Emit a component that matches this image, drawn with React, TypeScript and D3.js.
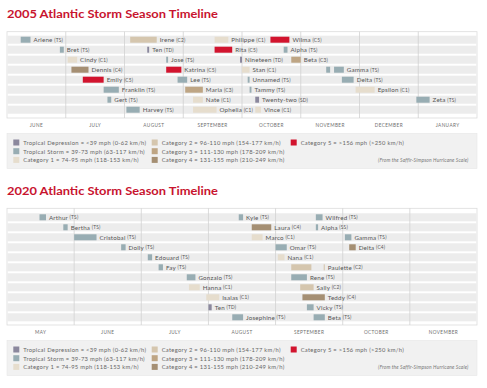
import React from "react";
import * as d3 from "d3";

const W = 487;
const H = 388;

const months2005 = ["JUNE", "JULY", "AUGUST", "SEPTEMBER", "OCTOBER", "NOVEMBER", "DECEMBER", "JANUARY"];
const months2020 = ["MAY", "JUNE", "JULY", "AUGUST", "SEPTEMBER", "OCTOBER", "NOVEMBER"];

// [name, category, row, start, end]; an empty name marks an unlabeled earlier segment
const storms2005: [string, string, number, string, string][] = [
  ["Arlene", "TS", 0, "2005-06-08", "2005-06-13"],
  ["Irene", "C2", 0, "2005-08-04", "2005-08-18"],
  ["Philippe", "C1", 0, "2005-09-17", "2005-09-24"],
  ["Wilma", "C5", 0, "2005-10-16", "2005-10-26"],
  ["Bret", "TS", 1, "2005-06-28", "2005-06-30"],
  ["Ten", "TD", 1, "2005-08-13", "2005-08-14"],
  ["Rita", "C5", 1, "2005-09-17", "2005-09-26"],
  ["Alpha", "TS", 1, "2005-10-23", "2005-10-25"],
  ["Cindy", "C1", 2, "2005-07-02", "2005-07-07"],
  ["Jose", "TS", 2, "2005-08-23", "2005-08-24"],
  ["Nineteen", "TD", 2, "2005-09-30", "2005-10-01"],
  ["Beta", "C3", 2, "2005-10-27", "2005-11-01"],
  ["Dennis", "C4", 3, "2005-07-04", "2005-07-13"],
  ["Katrina", "C5", 3, "2005-08-23", "2005-08-31"],
  ["Stan", "C1", 3, "2005-10-01", "2005-10-05"],
  ["", "TS", 3, "2005-11-14", "2005-11-16"],
  ["Gamma", "TS", 3, "2005-11-18", "2005-11-23"],
  ["Emily", "C5", 4, "2005-07-10", "2005-07-21"],
  ["Lee", "TS", 4, "2005-08-29", "2005-09-03"],
  ["Unnamed", "TS", 4, "2005-10-04", "2005-10-05"],
  ["Delta", "TS", 4, "2005-11-22", "2005-11-28"],
  ["Franklin", "TS", 5, "2005-07-21", "2005-07-29"],
  ["Maria", "C3", 5, "2005-09-02", "2005-09-11"],
  ["Tammy", "TS", 5, "2005-10-05", "2005-10-06"],
  ["Epsilon", "C1", 5, "2005-11-29", "2005-12-09"],
  ["Gert", "TS", 6, "2005-07-23", "2005-07-25"],
  ["Nate", "C1", 6, "2005-09-06", "2005-09-11"],
  ["Twenty-two", "SD", 6, "2005-10-08", "2005-10-10"],
  ["Zeta", "TS", 6, "2005-12-31", "2006-01-07"],
  ["Harvey", "TS", 7, "2005-08-02", "2005-08-09"],
  ["Ophelia", "C1", 7, "2005-09-06", "2005-09-18"],
  ["Vince", "C1", 7, "2005-10-08", "2005-10-11"],
];

const storms2020: [string, string, number, string, string][] = [
  ["Arthur", "TS", 0, "2020-05-16", "2020-05-19"],
  ["Kyle", "TS", 0, "2020-08-15", "2020-08-17"],
  ["Wilfred", "TS", 0, "2020-09-19", "2020-09-22"],
  ["Bertha", "TS", 1, "2020-05-27", "2020-05-29"],
  ["Laura", "C4", 1, "2020-08-21", "2020-08-30"],
  ["Alpha", "SS", 1, "2020-09-19", "2020-09-20"],
  ["Cristobal", "TS", 2, "2020-06-01", "2020-06-11"],
  ["Marco", "C1", 2, "2020-08-21", "2020-08-26"],
  ["Gamma", "TS", 2, "2020-10-02", "2020-10-05"],
  ["Dolly", "TS", 3, "2020-06-22", "2020-06-24"],
  ["Omar", "TS", 3, "2020-09-01", "2020-09-06"],
  ["Delta", "C4", 3, "2020-10-04", "2020-10-07"],
  ["Edouard", "TS", 4, "2020-07-04", "2020-07-06"],
  ["Nana", "C1", 4, "2020-09-02", "2020-09-05"],
  ["Fay", "TS", 5, "2020-07-09", "2020-07-11"],
  ["", "C2", 5, "2020-09-08", "2020-09-17"],
  ["Paulette", "C2", 5, "2020-09-22.5", "2020-09-23"],
  ["Gonzalo", "TS", 6, "2020-07-22", "2020-07-26"],
  ["Rene", "TS", 6, "2020-09-08", "2020-09-15"],
  ["Hanna", "C1", 7, "2020-07-23", "2020-07-28"],
  ["Sally", "C2", 7, "2020-09-12", "2020-09-18"],
  ["Isaias", "C1", 8, "2020-07-31", "2020-08-06"],
  ["Teddy", "C4", 8, "2020-09-13", "2020-09-23"],
  ["Ten", "TD", 9, "2020-08-01", "2020-08-02.5"],
  ["Vicky", "TS", 9, "2020-09-15", "2020-09-18"],
  ["Josephine", "TS", 10, "2020-08-12", "2020-08-17"],
  ["Beta", "TS", 10, "2020-09-18", "2020-09-23"],
];

const legendKeys = ["TD", "TS", "C1", "C2", "C3", "C4", "C5"];
const legendLabels = [
  "Tropical Depression = <39 mph (0-62 km/h)",
  "Tropical Storm = 39-73 mph (63-117 km/h)",
  "Category 1 = 74-95 mph (118-153 km/h)",
  "Category 2 = 96-110 mph (154-177 km/h)",
  "Category 3 = 111-130 mph (178-209 km/h)",
  "Category 4 = 131-155 mph (210-249 km/h)",
  "Category 5 = >156 mph (>250 km/h)",
];

const colors: Record<string, string> = {
  TD: "#8b889d",
  SD: "#8b889d",
  TS: "#98adb3",
  SS: "#98adb3",
  C1: "#e6ddcd",
  C2: "#d5c6ae",
  C3: "#bea584",
  C4: "#a58f73",
  C5: "#d2142e",
};

const FONT = "Lato, 'Open Sans', sans-serif";
const RED = "#c8142f";

function monthPos(date: string, y0: number, m0: number) {
  const [ys, ms, ds] = date.split("-");
  const y = +ys;
  const m = +ms;
  const d = parseFloat(ds);
  const days = new Date(y, m, 0).getDate();
  return (y - y0) * 12 + (m - m0) + (d - 1) / days;
}

type Props = {
  title: string;
  titleY: number;
  months: string[];
  y0: number;
  m0: number;
  storms: [string, string, number, string, string][];
  nRows: number;
  frameTop: number;
  firstRow: number;
  frameBottom: number;
};

function Timeline(p: Props) {
  const x0 = 7;
  const x1 = 477;
  const x = d3.scaleLinear().domain([0, p.months.length]).range([x0, x1]);
  const rowY = d3
    .scaleLinear()
    .domain([0, 1])
    .range([p.firstRow, p.firstRow + 10]);
  const rows = d3.range(p.nRows);
  const legTop = p.frameBottom + 15.5;
  const legRowsY = [legTop + 9, legTop + 17.7, legTop + 26.4];
  const colSw = [13.3, 151.7, 290.7];
  return (
    <g>
      <text
        x={x0}
        y={p.titleY}
        fontFamily={FONT}
        fontWeight={700}
        fontSize={11.8}
        fill={RED}
        textLength={211}
        lengthAdjust="spacingAndGlyphs"
      >
        {p.title}
      </text>
      <rect x={x0} y={p.frameTop} width={x1 - x0} height={p.frameBottom - p.frameTop} fill="#fff" stroke="#dcdcdc" strokeWidth={0.8} />
      {rows.map((r) => (
        <rect key={r} x={x0 + 0.5} y={rowY(r) - 4} width={x1 - x0 - 1} height={8} fill="#ececec" />
      ))}
      {d3.range(1, p.months.length).map((i) => (
        <line key={i} x1={x(i)} x2={x(i)} y1={p.frameTop} y2={p.frameBottom} stroke="#d2d2d2" strokeWidth={0.8} />
      ))}
      {p.months.map((m, i) => (
        <text
          key={m}
          x={x(i + 0.5)}
          y={p.frameBottom + 7}
          textAnchor="middle"
          dominantBaseline="central"
          fontFamily={FONT}
          fontSize={4.7}
          letterSpacing={0.4}
          fill="#707070"
        >
          {m}
        </text>
      ))}
      {p.storms.map((s, i) => {
        const [name, cat, row, start, end] = s;
        const xs = x(monthPos(start, p.y0, p.m0));
        let xe = x(monthPos(end, p.y0, p.m0));
        if (xe - xs < 1.1) xe = xs + 1.1;
        const cy = rowY(row);
        return (
          <g key={i}>
            <rect x={xs} y={cy - 3} width={xe - xs} height={6} fill={colors[cat]} />
            {name && (
              <text
                x={xe + 3}
                y={cy}
                dominantBaseline="central"
                fontFamily={FONT}
                fontSize={6.2}
                letterSpacing={0.2}
                fill="#555"
              >
                {name}
                <tspan fontSize={4.8} dx={1.6}>
                  ({cat})
                </tspan>
              </text>
            )}
          </g>
        );
      })}
      <rect x={x0} y={legTop} width={x1 - x0} height={35} fill="#f1f1f1" stroke="#e6e6e6" strokeWidth={0.6} />
      {legendKeys.map((k, i) => {
        const col = Math.floor(i / 3);
        const r = i % 3;
        const cy = legRowsY[r];
        return (
          <g key={k}>
            <rect x={colSw[col]} y={cy - 3} width={6} height={6} fill={colors[k]} />
            <text
              x={colSw[col] + 10}
              y={cy}
              dominantBaseline="central"
              fontFamily={FONT}
              fontSize={5.8}
              letterSpacing={0.3}
              fill="#666"
            >
              {legendLabels[i]}
            </text>
          </g>
        );
      })}
      <text
        x={468.5}
        y={legRowsY[2]}
        textAnchor="end"
        dominantBaseline="central"
        fontFamily={FONT}
        fontStyle="italic"
        fontSize={4.9}
        letterSpacing={0.15}
        fill="#777"
      >
        (From the Saffir-Simpson Hurricane Scale)
      </text>
    </g>
  );
}

export default function App() {
  return (
    <svg
      width={W}
      height={H}
      viewBox={`0 0 ${W} ${H}`}
      style={{ position: "absolute", left: 0, top: 0, display: "block", background: "#fff" }}
    >
      <rect width={W} height={H} fill="#fff" />
      <Timeline
        title="2005 Atlantic Storm Season Timeline"
        titleY={18}
        months={months2005}
        y0={2005}
        m0={6}
        storms={storms2005}
        nRows={8}
        frameTop={31.7}
        firstRow={39.7}
        frameBottom={118}
      />
      <Timeline
        title="2020 Atlantic Storm Season Timeline"
        titleY={195.3}
        months={months2020}
        y0={2020}
        m0={5}
        storms={storms2020}
        nRows={11}
        frameTop={208.3}
        firstRow={217.3}
        frameBottom={325}
      />
    </svg>
  );
}
